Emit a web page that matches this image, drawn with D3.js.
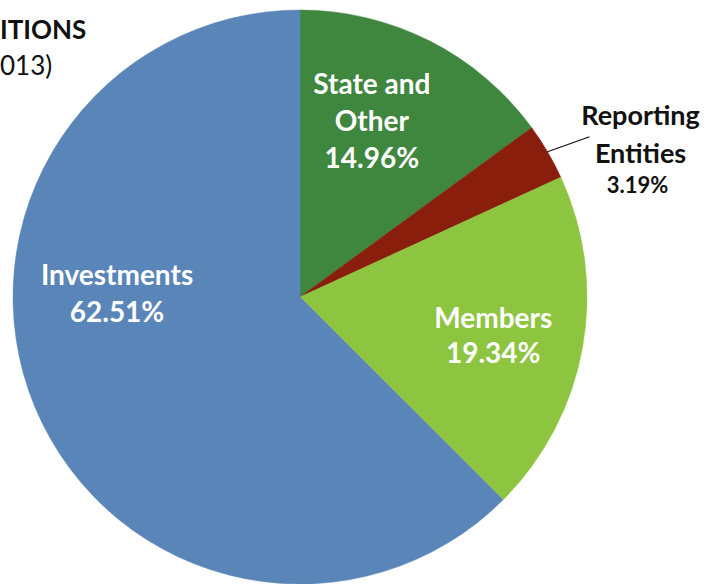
<!DOCTYPE html>
<html>
<head>
<meta charset="utf-8">
<script src="https://cdn.jsdelivr.net/npm/d3@7"></script>
<style>
  body { margin: 0; background: #fff; }
  svg { display: block; font-family: Lato, "Noto Sans", sans-serif; }
</style>
</head>
<body>
<svg id="chart" width="707" height="584"></svg>
<script>
// slices, clockwise from 12 o'clock
var categories = ["State and Other", "Reporting Entities", "Members", "Investments"];
var shares = [14.96, 3.19, 19.34, 62.51];
var labelLines = [["State and", "Other"], ["Reporting", "Entities"], ["Members"], ["Investments"]];
var titleLines = ["ITIONS", "013)"];

var colors = ["#3f863f", "#8a1e0c", "#8dc440", "#5a85b8"];

var width = 707, height = 584,
  cx = 300, cy = 297,
  radius = 287;

var svg = d3.select("#chart");

// title (cut off at the left in the original)
svg.append("text")
  .attr("x", 0).attr("y", 39)
  .attr("font-size", 26).attr("font-weight", "bold")
  .attr("fill", "#111")
  .text(titleLines[0]);
svg.append("text")
  .attr("x", 0).attr("y", 75)
  .attr("font-size", 26)
  .attr("fill", "#111")
  .text(titleLines[1]);

var data = categories.map(function (c, i) {
  return { name: c, value: shares[i], lines: labelLines[i], color: colors[i] };
});

var pie = d3.pie()
  .sort(null)
  .value(function (d) { return d.value; });

var arc = d3.arc().innerRadius(0).outerRadius(radius);

var g = svg.append("g")
  .attr("transform", "translate(" + cx + "," + cy + ")");

var arcs = pie(data);

g.selectAll("path")
  .data(arcs)
  .enter().append("path")
  .attr("d", arc)
  .attr("fill", function (d) { return d.data.color; })
  .attr("stroke", function (d) { return d.data.color; })
  .attr("stroke-width", 0.5);

// label placement: radius and angle shift (degrees) from slice mid-angle
var labelPlace = {
  "State and Other": { r: 190, shift: -4.7, lh: 37 },
  "Members": { r: 197, shift: 1.0, lh: 35 },
  "Investments": { r: 183, shift: 23.5, lh: 37 }
};

function polar(r, a) {
  return [r * Math.sin(a), -r * Math.cos(a)];
}

arcs.forEach(function (d) {
  var mid = (d.startAngle + d.endAngle) / 2;
  var p = labelPlace[d.data.name];
  var pct = d.data.value.toFixed(2) + "%";
  if (p) {
    var pos = polar(p.r, mid + p.shift * Math.PI / 180);
    var lines = d.data.lines.concat([pct]);
    var t = g.append("text")
      .attr("text-anchor", "middle")
      .attr("font-size", 28)
      .attr("font-weight", "bold")
      .attr("fill", "#fff");
    lines.forEach(function (s, i) {
      t.append("tspan")
        .attr("x", pos[0])
        .attr("y", pos[1] + (i - (lines.length - 1) / 2) * p.lh + 10)
        .text(s);
    });
  } else {
    // outside label with leader line
    var start = polar(radius, mid);
    var end = [start[0] + 42, start[1] - 15];
    g.append("line")
      .attr("x1", start[0]).attr("y1", start[1])
      .attr("x2", end[0]).attr("y2", end[1])
      .attr("stroke", "#111")
      .attr("stroke-width", 1.3);
    var lx = end[0] + 51;
    var t2 = g.append("text")
      .attr("text-anchor", "middle")
      .attr("font-weight", "bold")
      .attr("fill", "#111");
    t2.append("tspan").attr("x", lx).attr("y", 125 - cy)
      .attr("font-size", 27).text(d.data.lines[0]);
    t2.append("tspan").attr("x", lx).attr("y", 163 - cy)
      .attr("font-size", 27).text(d.data.lines[1]);
    t2.append("tspan").attr("x", lx - 3).attr("y", 193 - cy)
      .attr("font-size", 22).text(pct);
  }
});
</script>
</body>
</html>
